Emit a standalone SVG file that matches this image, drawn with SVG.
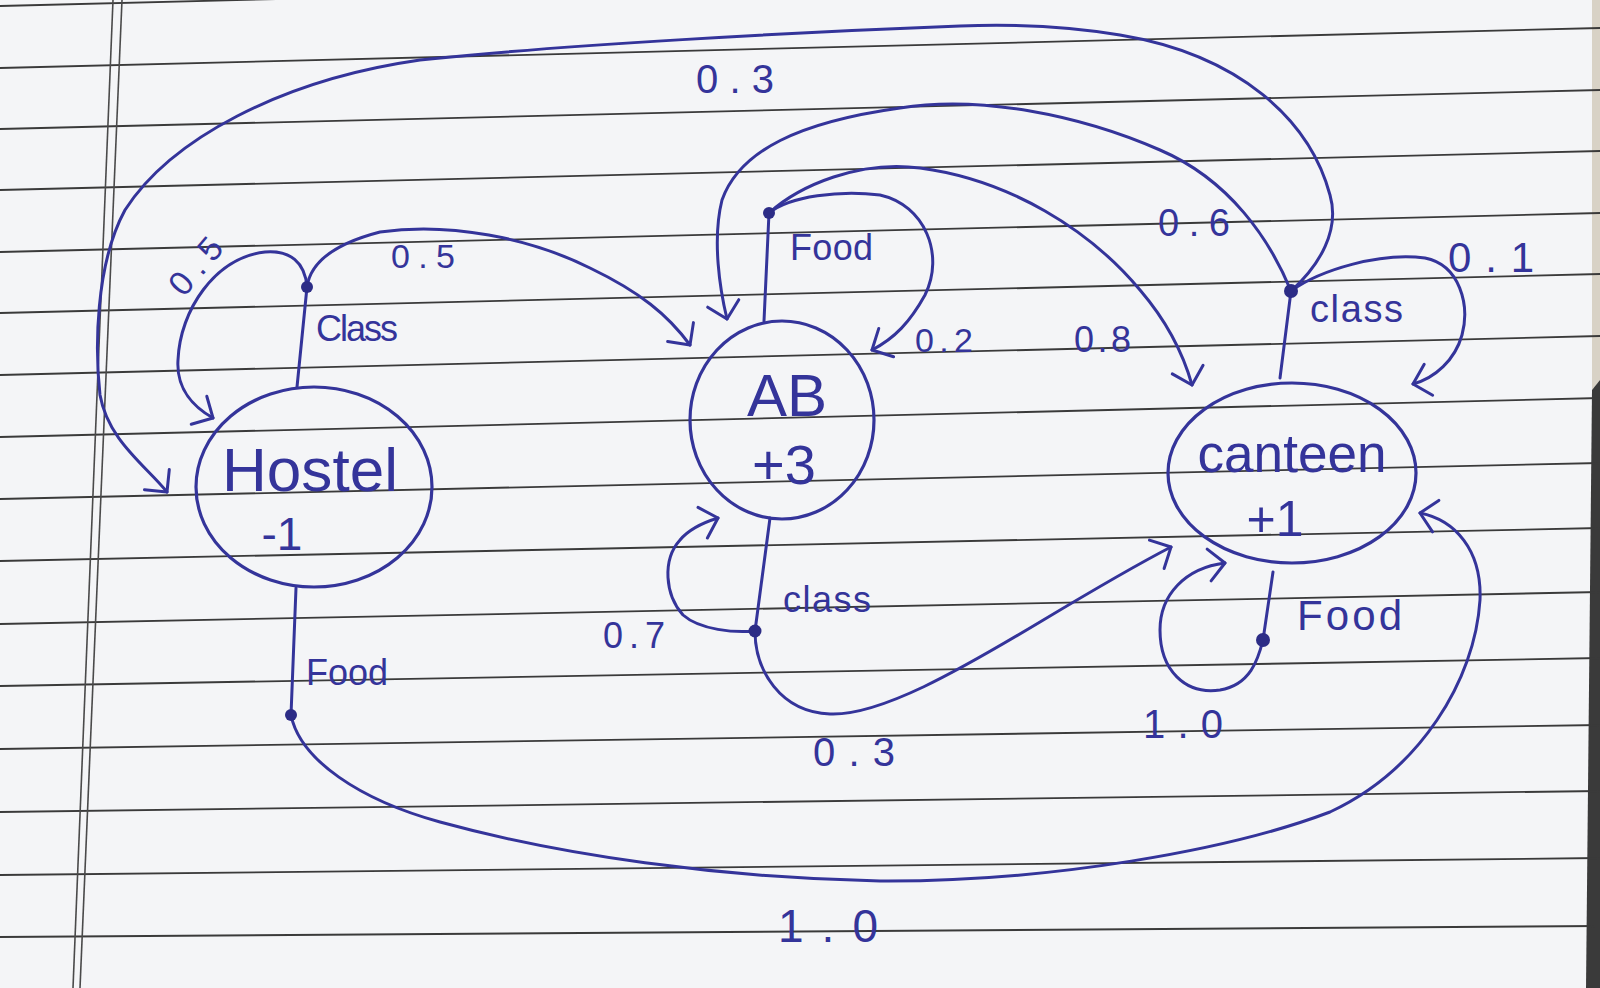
<svg xmlns="http://www.w3.org/2000/svg" width="1600" height="988" viewBox="0 0 1600 988">
<style>
.ink{fill:none;stroke:#34349a;stroke-width:3;stroke-linecap:round;stroke-linejoin:round}
.rule{stroke:#3a3a3a;stroke-width:1.8}
.margin{stroke:#4a4a4a;stroke-width:1.6}
.state{fill:none;stroke:#34349a;stroke-width:3.2}
.dot{fill:#2c2c86}
text{font-family:"Liberation Sans","DejaVu Sans",sans-serif;fill:#34349a}
.big{font-size:62px}
.lbl{font-size:36px}
</style>
<defs>
<marker id="arr" viewBox="0 0 40 40" refX="37" refY="20" markerWidth="40" markerHeight="40" markerUnits="userSpaceOnUse" orient="auto">
<path d="M21,4 L37,20 L21,36" fill="none" stroke="#34349a" stroke-width="3" stroke-linecap="round" stroke-linejoin="round"/>
</marker>
</defs>
<g id="paper">
<rect width="1600" height="988" fill="#f4f5f7"/>
<polygon points="1592,0 1600,0 1600,380 1592,390" fill="#d8d2c6"/>
<polygon points="1592,390 1600,380 1600,988 1586,988" fill="#3a3a3a"/>
<line class="rule" x1="0" y1="6" x2="1600" y2="-34"/>
<line class="rule" x1="0" y1="68" x2="1600" y2="28"/>
<line class="rule" x1="0" y1="129" x2="1600" y2="90"/>
<line class="rule" x1="0" y1="190" x2="1600" y2="151"/>
<line class="rule" x1="0" y1="252" x2="1600" y2="213"/>
<line class="rule" x1="0" y1="313" x2="1600" y2="274"/>
<line class="rule" x1="0" y1="375" x2="1600" y2="336"/>
<line class="rule" x1="0" y1="437" x2="1600" y2="398"/>
<line class="rule" x1="0" y1="499" x2="1600" y2="463"/>
<line class="rule" x1="0" y1="561" x2="1600" y2="528"/>
<line class="rule" x1="0" y1="624" x2="1600" y2="592"/>
<line class="rule" x1="0" y1="686" x2="1600" y2="658"/>
<line class="rule" x1="0" y1="749" x2="1600" y2="725"/>
<line class="rule" x1="0" y1="812" x2="1600" y2="791"/>
<line class="rule" x1="0" y1="875" x2="1600" y2="858"/>
<line class="rule" x1="0" y1="937" x2="1600" y2="926"/>
<line class="margin" x1="113" y1="0" x2="73" y2="988"/>
<line class="margin" x1="122" y1="0" x2="80" y2="988"/>
</g>
<g id="connectors">
<path class="ink" d="M297,387 L307,287"/>
<path class="ink" d="M296,588 L291,715"/>
<path class="ink" d="M764,321 L769,213"/>
<path class="ink" d="M770,518 L755,631"/>
<path class="ink" d="M1280,378 L1291,291"/>
<path class="ink" d="M1273,572 L1263,640"/>
<path class="ink" marker-end="url(#arr)" d="M307,287 C305,262 290,250 265,252 C215,258 180,310 178,360 C176,390 195,408 213,418"/>
<path class="ink" marker-end="url(#arr)" d="M307,287 C310,265 330,245 380,232 C450,222 530,238 590,268 C640,292 668,315 690,345"/>
<path class="ink" marker-end="url(#arr)" d="M769,213 C790,196 840,190 880,195 C925,205 945,255 925,295 C910,322 895,338 872,350"/>
<path class="ink" marker-end="url(#arr)" d="M769,213 C800,185 860,160 920,168 C1010,180 1090,230 1140,290 C1170,325 1185,360 1192,385"/>
<path class="ink" marker-end="url(#arr)" d="M1291,291 C1270,240 1230,180 1160,150 C1080,115 980,95 900,108 C800,122 740,150 722,200 C712,240 720,290 727,319"/>
<path class="ink" marker-end="url(#arr)" d="M1291,291 C1320,265 1340,230 1330,195 C1310,120 1240,55 1120,35 C1060,25 1010,24 960,26 C800,32 560,45 420,60 C280,80 170,140 125,210 C95,265 95,350 100,395 C108,440 145,465 167,492"/>
<path class="ink" marker-end="url(#arr)" d="M1291,291 C1320,270 1380,252 1425,258 C1460,265 1470,305 1462,335 C1455,360 1435,378 1413,384"/>
<path class="ink" marker-end="url(#arr)" d="M755,631 C735,633 700,630 683,615 C665,595 662,560 680,540 C690,528 705,522 718,518"/>
<path class="ink" marker-end="url(#arr)" d="M755,631 C755,670 780,712 830,714 C880,716 960,670 1040,622 C1090,592 1140,563 1171,547"/>
<path class="ink" marker-end="url(#arr)" d="M1263,640 C1258,660 1250,685 1220,690 C1185,695 1160,670 1160,630 C1160,595 1185,568 1225,563"/>
<path class="ink" marker-end="url(#arr)" d="M291,715 C300,760 360,800 440,822 C560,855 720,878 880,881 C1050,882 1230,850 1330,812 C1420,770 1475,680 1480,600 C1482,550 1455,520 1420,513"/>
<g id="edge-labels">
<text x="696" y="93" font-size="40" textLength="78" lengthAdjust="spacing">0.3</text>
<text x="391" y="268" font-size="34" textLength="64" lengthAdjust="spacing">0.5</text>
<text x="0" y="0" font-size="34" textLength="64" lengthAdjust="spacing" transform="translate(184,298) rotate(-50)">0.5</text>
<text x="915" y="352" font-size="34" textLength="58" lengthAdjust="spacing">0.2</text>
<text x="1074" y="352" font-size="36" textLength="57" lengthAdjust="spacing">0.8</text>
<text x="1158" y="236" font-size="38" textLength="72" lengthAdjust="spacing">0.6</text>
<text x="1448" y="272" font-size="42" textLength="86" lengthAdjust="spacing">0.1</text>
<text x="603" y="648" font-size="36" textLength="62" lengthAdjust="spacing">0.7</text>
<text x="813" y="766" font-size="40" textLength="82" lengthAdjust="spacing">0.3</text>
<text x="1143" y="738" font-size="40" textLength="80" lengthAdjust="spacing">1.0</text>
<text x="778" y="942" font-size="46" textLength="100" lengthAdjust="spacing">1.0</text>
</g>
</g>
<g id="node-hostel">
<ellipse class="state" cx="314" cy="487" rx="118" ry="100"/>
<text class="big" x="310" y="491" text-anchor="middle" textLength="176" lengthAdjust="spacingAndGlyphs">Hostel</text>
<text x="282" y="550" font-size="46" text-anchor="middle">-1</text>
</g>
<g id="node-ab">
<ellipse class="state" cx="782" cy="420" rx="92" ry="99"/>
<text x="787" y="416" font-size="60" text-anchor="middle">AB</text>
<text x="784" y="484" font-size="56" text-anchor="middle">+3</text>
</g>
<g id="node-canteen">
<ellipse class="state" cx="1292" cy="473" rx="124" ry="90"/>
<text x="1292" y="472" font-size="54" text-anchor="middle" textLength="189" lengthAdjust="spacingAndGlyphs">canteen</text>
<text x="1275" y="536" font-size="50" text-anchor="middle">+1</text>
</g>
<g id="act-hostel-class">
<circle class="dot" cx="307" cy="287" r="6"/>
<text class="lbl" x="316" y="341" textLength="82" lengthAdjust="spacing">Class</text>
</g>
<g id="act-hostel-food">
<circle class="dot" cx="291" cy="715" r="6"/>
<text class="lbl" x="306" y="685" textLength="82" lengthAdjust="spacing">Food</text>
</g>
<g id="act-ab-food">
<circle class="dot" cx="769" cy="213" r="6"/>
<text class="lbl" x="790" y="260" textLength="83" lengthAdjust="spacing">Food</text>
</g>
<g id="act-ab-class">
<circle class="dot" cx="755" cy="631" r="6.5"/>
<text class="lbl" x="783" y="612" textLength="88" lengthAdjust="spacing">class</text>
</g>
<g id="act-canteen-class">
<circle class="dot" cx="1291" cy="291" r="7"/>
<text x="1310" y="322" font-size="38" textLength="93" lengthAdjust="spacing">class</text>
</g>
<g id="act-canteen-food">
<circle class="dot" cx="1263" cy="640" r="7"/>
<text x="1297" y="630" font-size="42" textLength="105" lengthAdjust="spacing">Food</text>
</g>
</svg>
